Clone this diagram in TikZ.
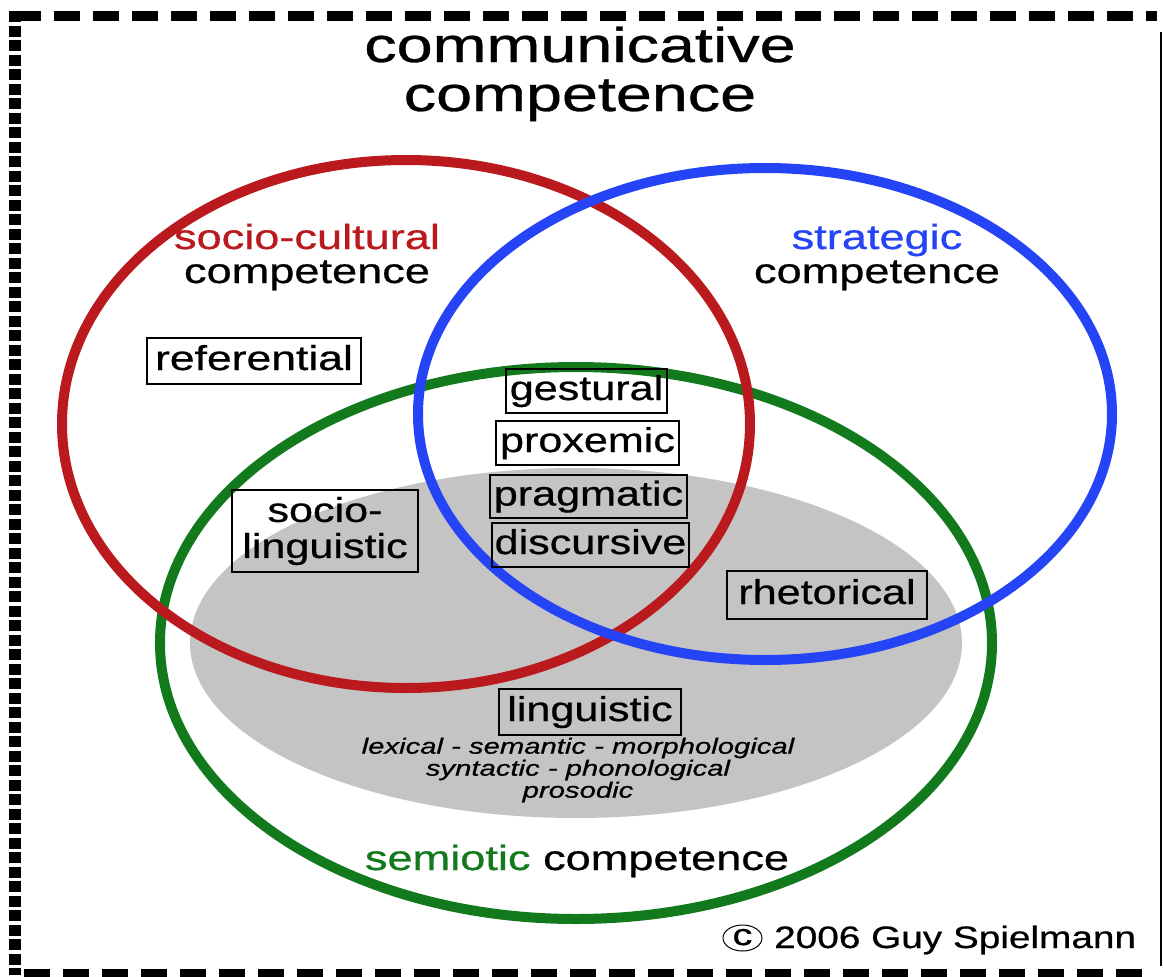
\documentclass[tikz,border=0pt]{standalone}
\usepackage{fontspec}
\usepackage{graphicx}
\setmainfont[FakeBold=0.6]{Liberation Sans}
\usetikzlibrary{shapes.geometric}
\definecolor{cred}{RGB}{186,26,30}
\definecolor{cblue}{RGB}{36,68,245}
\definecolor{cgreen}{RGB}{18,122,28}
\definecolor{cgray}{RGB}{197,196,197}
\newcommand\W[2][1.29]{\scalebox{#1}[1]{#2}}
\newcommand\B[1]{\scalebox{1.25}[1]{#1}}
\tikzset{
  ring/.style={line width=10pt},
  lbox/.style={draw, line width=2.4pt, inner sep=0pt, font=\fontsize{34.5}{36}\selectfont,
     text height=25pt, text depth=7pt},
  head/.style={anchor=base, inner sep=0pt, font=\fontsize{35}{36}\selectfont},
}
\begin{document}
\begin{tikzpicture}[x=1pt,y=-1pt]
\useasboundingbox (0,0) rectangle (1163,977);
% frame
\draw[line width=10pt, dash pattern=on 26pt off 13pt] (15,16) -- (1157,16);
\draw[line width=12pt, dash pattern=on 11pt off 3.5pt] (15,11) -- (15,975);
\draw[line width=10pt, dash pattern=on 26pt off 13pt] (24,974) -- (1155,974);
\draw[line width=2pt] (1161,32) -- (1161,966);
% regions
\fill[cgray] (576,643) ellipse [x radius=386, y radius=175];
\draw[ring, cgreen] (576,643) ellipse [x radius=416, y radius=276];
\draw[ring, cred] (406,424) ellipse [x radius=344, y radius=264];
\draw[ring, cblue] (765,414) ellipse [x radius=347, y radius=246];
% title
\node[head, font=\fontsize{49}{45}\selectfont] (t1) at (580,62) {\W[1.32]{communicative}};
\node[head, font=\fontsize{49}{45}\selectfont] (t2) at (580,111) {\W[1.32]{competence}};
% headings
\node[head, text=cred] (sc1) at (307,249) {\W{socio-cultural}};
\node[head] (sc2) at (307,283) {\W{competence}};
\node[head, text=cblue] (st1) at (877,249) {\W{strategic}};
\node[head] (st2) at (877,283) {\W{competence}};
\node[head] (se) at (577,870) {\W{\textcolor{cgreen}{semiotic} competence}};
% boxes
\node[lbox, minimum width=214pt, minimum height=46pt] (ref) at (254,361) {\W{referential}};
\node[lbox, minimum width=161pt, minimum height=44pt] (ges) at (586.5,391) {\B{gestural}};
\node[lbox, minimum width=183pt, minimum height=44pt] (pro) at (587.5,443) {\B{proxemic}};
\node[lbox, minimum width=197pt, minimum height=43pt] (pra) at (588.5,496.5) {\B{pragmatic}};
\node[lbox, minimum width=197pt, minimum height=44pt] (dis) at (590.5,545) {\B{discursive}};
\node[lbox, minimum width=200pt, minimum height=48pt] (rhe) at (827,595) {\B{rhetorical}};
\node[lbox, minimum width=182pt, minimum height=46pt] (lin) at (590,712) {\B{linguistic}};
\node[draw, line width=2.4pt, inner sep=0pt, minimum width=186pt, minimum height=82pt,
      align=center, font=\fontsize{34.5}{36}\selectfont] (soc) at (325,531)
      {\B{socio-}\\\B{linguistic}};
% sub-list
\node[inner sep=0pt, align=center, font=\fontsize{22}{22}\selectfont\itshape] (sub) at (578,770)
  {\W[1.33]{lexical - semantic - morphological}\\\W[1.33]{syntactic - phonological}\\\W[1.33]{prosodic}};
% copyright
\node[draw, ellipse, line width=1pt, inner sep=0pt, minimum width=39pt, minimum height=26pt,
      font=\fontsize{30}{30}\selectfont] (cc) at (742.5,938) {\raisebox{2pt}{\W[1.33]{c}}};
\node[anchor=base west, inner sep=0pt, font=\fontsize{31}{32}\selectfont] (cr) at (774,948)
  {\W[1.25]{2006 Guy Spielmann}};
\end{tikzpicture}
\end{document}
